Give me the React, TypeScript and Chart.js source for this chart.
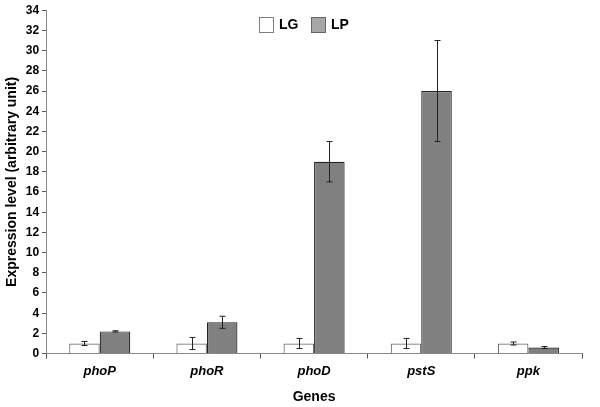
import React, { useEffect, useRef } from "react";
import { Chart, registerables } from "chart.js";
Chart.register(...registerables);

const genes = ["phoP", "phoR", "phoD", "pstS", "ppk"];
const seriesNames = ["LG", "LP"];
const lgValues = [1.0, 1.0, 1.0, 1.0, 1.0];
const lgErrors = [0.2, 0.6, 0.5, 0.5, 0.15];
const lpValues = [2.2, 3.1, 19.0, 26.0, 0.6];
const lpErrors = [0.06, 0.6, 2.0, 5.0, 0.1];
const yTickMax = 34;
const yTickStep = 2;

const errors = [lgErrors, lpErrors];

const errorBarPlugin = {
  id: "errorBars",
  afterDatasetsDraw(chart: any) {
    const ctx = chart.ctx;
    const y = chart.scales.y;
    ctx.save();
    ctx.strokeStyle = "#222";
    ctx.lineWidth = 1;
    chart.data.datasets.forEach((ds: any, di: number) => {
      const meta = chart.getDatasetMeta(di);
      meta.data.forEach((el: any, i: number) => {
        const v = ds.data[i];
        const e = errors[di][i];
        const x = Math.round(el.x) + 0.5;
        const yt = y.getPixelForValue(v + e);
        const yb = y.getPixelForValue(v - e);
        ctx.beginPath();
        ctx.moveTo(x, yt);
        ctx.lineTo(x, yb);
        ctx.moveTo(x - 3, yt);
        ctx.lineTo(x + 3, yt);
        ctx.moveTo(x - 3, yb);
        ctx.lineTo(x + 3, yb);
        ctx.stroke();
      });
    });
    ctx.restore();
  },
};

const legendPlugin = {
  id: "customLegend",
  afterDraw(chart: any) {
    const ctx = chart.ctx;
    ctx.save();
    const items = [
      { label: seriesNames[0], fill: "#ffffff", stroke: "#808080", x: 259 },
      { label: seriesNames[1], fill: "#a6a6a6", stroke: "#666666", x: 311 },
    ];
    ctx.font = "bold 14px 'Liberation Sans', Arial, sans-serif";
    ctx.textBaseline = "middle";
    items.forEach((it) => {
      ctx.fillStyle = it.fill;
      ctx.fillRect(it.x + 0.5, 17.5, 14, 15);
      ctx.strokeStyle = it.stroke;
      ctx.lineWidth = 1;
      ctx.strokeRect(it.x + 0.5, 17.5, 14, 15);
      ctx.fillStyle = "#000";
      ctx.fillText(it.label, it.x + 20, 25.5);
    });
    ctx.restore();
  },
};

export default function App() {
  const ref = useRef<HTMLCanvasElement>(null);
  useEffect(() => {
    const chart = new Chart(ref.current as HTMLCanvasElement, {
      type: "bar",
      data: {
        labels: genes,
        datasets: [
          {
            label: seriesNames[0],
            data: lgValues,
            backgroundColor: "#ffffff",
            borderColor: "#6f6f6f",
            borderWidth: 1.2,
            categoryPercentage: 0.57,
            barPercentage: 1.0,
          },
          {
            label: seriesNames[1],
            data: lpValues,
            backgroundColor: "#808080",
            borderColor: "#222222",
            borderWidth: 1.2,
            categoryPercentage: 0.57,
            barPercentage: 1.0,
          },
        ],
      },
      options: {
        animation: false,
        responsive: false,
        layout: { padding: { top: 5, right: 18, left: 4, bottom: 1 } },
        plugins: { legend: { display: false }, tooltip: { enabled: false } },
        scales: {
          x: {
            grid: {
              display: true,
              drawOnChartArea: false,
              offset: true,
              tickLength: 5,
              color: "#555",
            },
            border: { color: "#888", width: 1 },
            ticks: {
              color: "#000",
              padding: 5,
              font: { family: "'Liberation Sans', Arial, sans-serif", size: 13, weight: "bold", style: "italic" },
            },
            title: {
              display: true,
              text: "Genes",
              color: "#000",
              padding: { top: 5, bottom: 0 },
              font: { family: "'Liberation Sans', Arial, sans-serif", size: 14, weight: "bold" },
            },
          },
          y: {
            min: 0,
            max: yTickMax,
            grid: { display: true, drawOnChartArea: false, tickLength: 4, color: "#555" },
            border: { color: "#888", width: 1 },
            ticks: {
              stepSize: yTickStep,
              color: "#000",
              padding: 3,
              font: { family: "'Liberation Sans', Arial, sans-serif", size: 12, weight: "bold" },
            },
            title: {
              display: true,
              text: "Expression level (arbitrary unit)",
              color: "#000",
              padding: { top: 0, bottom: 2 },
              font: { family: "'Liberation Sans', Arial, sans-serif", size: 14, weight: "bold" },
            },
          },
        },
      },
      plugins: [errorBarPlugin, legendPlugin],
    });
    return () => chart.destroy();
  }, []);
  return (
    <div style={{ position: "fixed", left: 0, top: 0, width: 600, height: 407, background: "#fff" }}>
      <canvas ref={ref} width={600} height={407} />
    </div>
  );
}
